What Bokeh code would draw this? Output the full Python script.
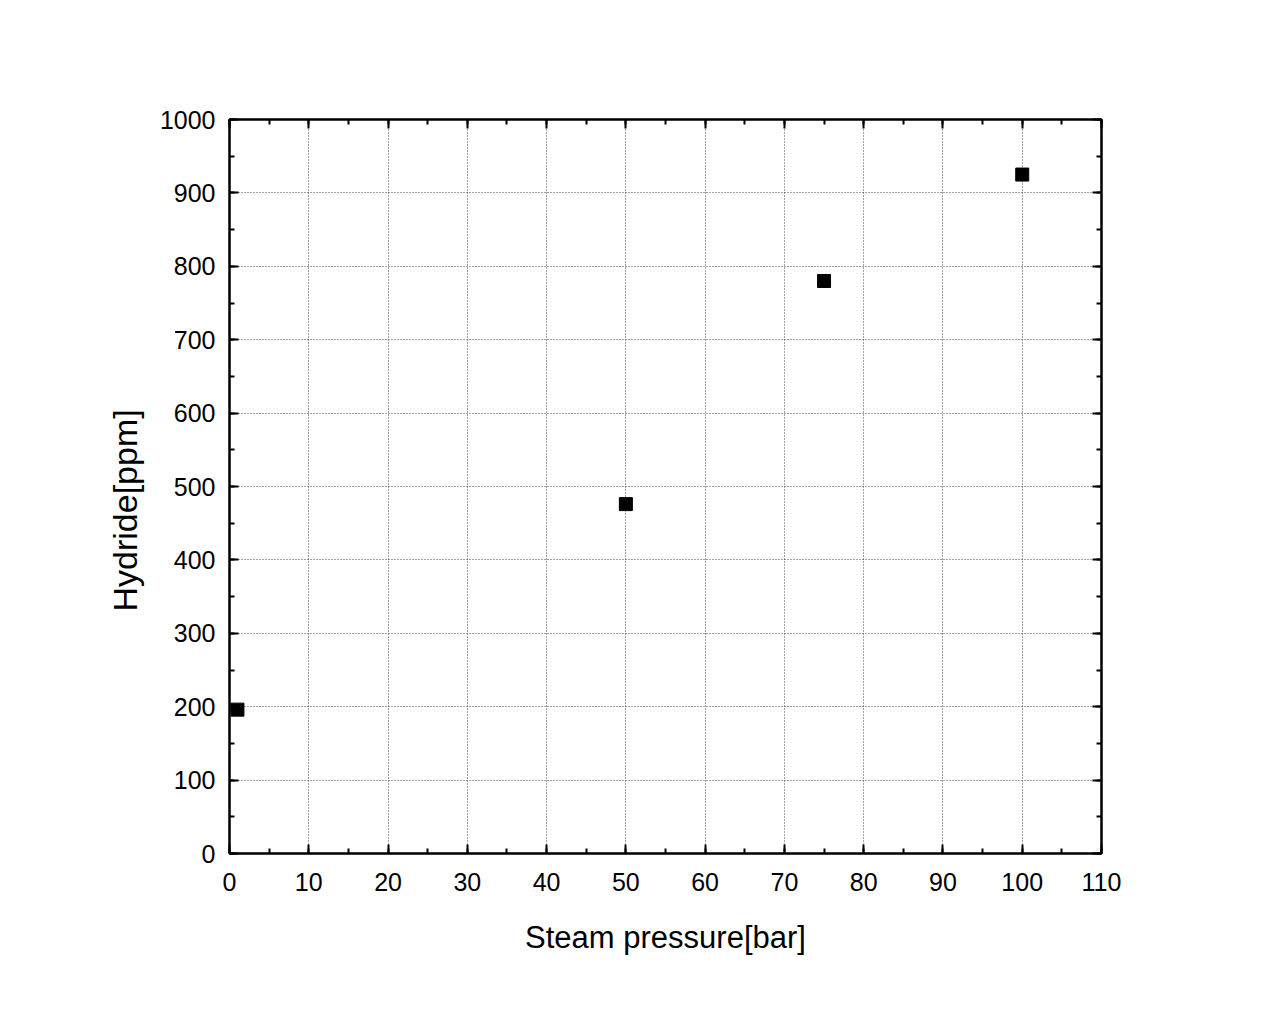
from bokeh.plotting import figure
from bokeh.models import Range1d, LinearAxis, SingleIntervalTicker, ColumnDataSource, Grid, Title
from bokeh.embed import file_html
from bokeh.resources import INLINE

pressure = [1, 50, 75, 100]
hydride = [196, 476, 780, 925]

x_ticks_interval = 10
y_ticks_interval = 100

FONT = "Liberation Sans"

p = figure(width=1280, height=1024, output_backend="svg", toolbar_location=None,
           x_range=Range1d(0, 110), y_range=Range1d(0, 1000),
           x_axis_type=None, y_axis_type=None,
           min_border_left=229, min_border_right=179,
           min_border_top=119, min_border_bottom=171)
p.background_fill_color = "white"
p.border_fill_color = "white"
p.outline_line_color = "black"
p.outline_line_width = 2

def style(ax, labels=True):
    ax.axis_line_width = 2
    ax.axis_line_color = "black"
    ax.major_tick_in = 9
    ax.major_tick_out = 0
    ax.minor_tick_in = 5
    ax.minor_tick_out = 0
    ax.major_tick_line_width = 2
    ax.minor_tick_line_width = 2
    ax.major_tick_line_color = "black"
    ax.minor_tick_line_color = "black"
    ax.major_label_text_font = FONT
    ax.major_label_text_font_size = "25px"
    ax.major_label_text_color = "black" if labels else None
    ax.axis_label_text_font = FONT
    ax.axis_label_text_font_style = "normal"
    ax.axis_label_text_color = "black"

xt = SingleIntervalTicker(interval=x_ticks_interval, num_minor_ticks=2)
yt = SingleIntervalTicker(interval=y_ticks_interval, num_minor_ticks=2)

xb = LinearAxis(ticker=xt, axis_label="Steam pressure[bar]")
style(xb)
xb.major_label_standoff = 19
xb.axis_label_standoff = 26
xb.axis_label_text_font_size = "31px"
p.add_layout(xb, "below")

yl = LinearAxis(ticker=yt)
style(yl)
yl.major_label_standoff = 14
p.add_layout(yl, "left")

ytitle = Title(text="Hydride[ppm]", align="left", offset=242, standoff=26,
               text_font=FONT, text_font_size="34px", text_font_style="normal",
               text_color="black")
p.add_layout(ytitle, "left")

xa = LinearAxis(ticker=xt)
style(xa, labels=False)
xa.major_label_text_font_size = "0px"
p.add_layout(xa, "above")

yr = LinearAxis(ticker=yt)
style(yr, labels=False)
yr.major_label_text_font_size = "0px"
p.add_layout(yr, "right")

gx = Grid(dimension=0, ticker=xt, grid_line_color="#444444", grid_line_dash="1 2", grid_line_width=1)
gy = Grid(dimension=1, ticker=yt, grid_line_color="#444444", grid_line_dash="1 2", grid_line_width=1)
p.add_layout(gx)
p.add_layout(gy)

src = ColumnDataSource(dict(x=pressure, y=hydride))
p.scatter("x", "y", source=src, marker="square", size=13, fill_color="black", line_color="black")

open("out.html", "w").write(file_html(p, INLINE))
